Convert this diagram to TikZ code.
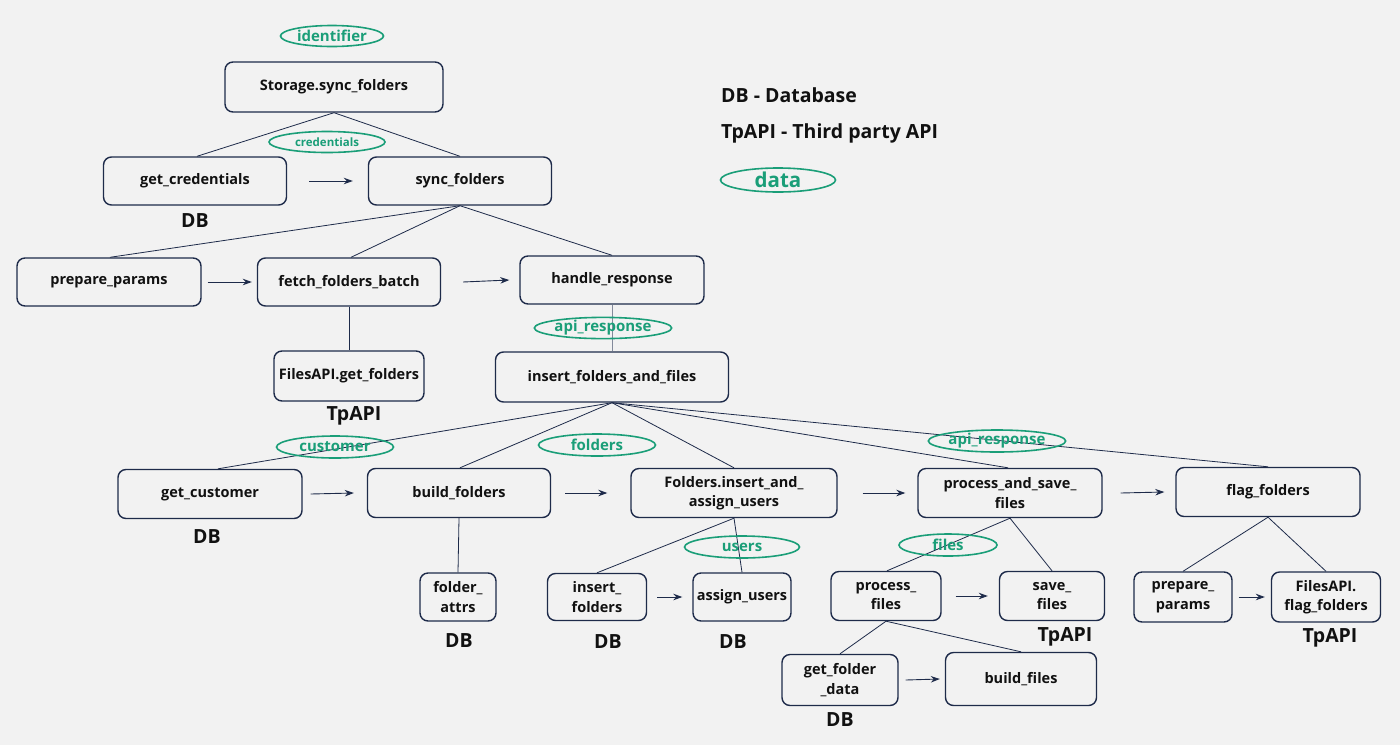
\documentclass[tikz,border=0pt]{standalone}
\usepackage{fontspec}
\setmainfont{Open Sans}
\usetikzlibrary{shapes.geometric,arrows.meta}
\definecolor{bg}{HTML}{F2F2F2}
\definecolor{navy}{HTML}{1E2B4A}
\definecolor{grn}{HTML}{1A9E78}
\definecolor{txt}{HTML}{111111}
\begin{document}
\begin{tikzpicture}[x=1pt,y=-1pt,
 box/.style={draw=navy, line width=1.4pt, rounded corners=8pt, text=txt, font=\fontsize{14.5}{19.5}\selectfont\bfseries, align=center, inner sep=0pt},
 lab/.style={text=txt, font=\fontsize{19.5}{22}\selectfont\bfseries, inner sep=0pt},
 ell/.style={ellipse, draw=grn, line width=1.6pt, text=grn, font=\fontsize{15}{17}\selectfont\bfseries, inner sep=0pt},
 link/.style={draw=navy, line width=0.8pt},
 arr/.style={draw=navy, line width=0.9pt, -{Stealth[length=9pt,width=6.5pt]}}]
\fill[bg] (0,0) rectangle (1400,745);
\useasboundingbox (0,0) rectangle (1400,745);

% legend
\node[lab, anchor=west] (leg1) at (721,95) {DB - Database};
\node[lab, anchor=west] (leg2) at (721,133) {TpAPI - Third party API};
\node[ell, minimum width=115, minimum height=24, font=\fontsize{20.5}{22}\selectfont\bfseries] (legd) at (778,180) {data};

% level 0
\node[box, minimum width=218, minimum height=50] (storage) at (334,87) {Storage.sync\_folders};
\node[ell, minimum width=103, minimum height=21] (eid) at (332,36) {identifier};

% level 1
\node[box, minimum width=183, minimum height=48] (getcred) at (195,181) {get\_credentials};
\node[box, minimum width=183, minimum height=48] (sync) at (460,181) {sync\_folders};
\node[lab] (db1) at (195,221) {DB};
\node[ell, minimum width=116, minimum height=21, font=\fontsize{11.5}{13}\selectfont\bfseries] (ecred) at (327,142) {credentials};
\draw[link] (storage.south) -- ([xshift=2pt]getcred.north);
\draw[link] (storage.south) -- (sync.north);
\draw[arr] ([xshift=22pt]getcred.east) -- ([xshift=-15pt]sync.west);

% level 2
\node[box, minimum width=184, minimum height=48] (prep) at (109,282) {prepare\_params};
\node[box, minimum width=183, minimum height=48] (fetch) at (349,282) {fetch\_folders\_batch};
\node[box, minimum width=184, minimum height=48] (handle) at (612,280) {handle\_response};
\draw[link] (sync.south) -- ([xshift=1pt]prep.north);
\draw[link] (sync.south) -- ([xshift=2pt]fetch.north);
\draw[link] (sync.south) -- (handle.north);
\draw[arr] ([xshift=6pt]prep.east) -- ([xshift=-5pt]fetch.west);
\draw[arr] ([xshift=22pt]fetch.east) -- ([xshift=-10pt]handle.west);

\node[box, minimum width=150, minimum height=50] (fapi) at (349,376) {FilesAPI.get\_folders};
\node[lab] (tp1) at (354,416) {TpAPI};
\draw[link] (fetch.south) -- (fapi.north);

\node[box, minimum width=233, minimum height=50] (insert) at (612,377) {insert\_folders\_and\_files};
\draw[link, draw=navy!55] (handle.south) -- (insert.north);
\node[ell, minimum width=125, minimum height=21] (eapi1) at (603,328) {api\_response};

% level 4
\node[box, minimum width=184, minimum height=49] (getcust) at (210,494) {get\_customer};
\node[box, minimum width=183, minimum height=49] (build) at (459,493) {build\_folders};
\node[box, minimum width=206, minimum height=49] (fins) at (734,493) {Folders.insert\_and\_\\assign\_users};
\node[box, minimum width=184, minimum height=49] (pas) at (1010,493) {process\_and\_save\_\\files};
\node[box, minimum width=184, minimum height=49] (flag) at (1268,492) {flag\_folders};
\node[lab] (db2) at (207,537) {DB};
\draw[link] (insert.south) -- ([xshift=8pt]getcust.north);
\draw[link] (insert.south) -- ([xshift=1pt]build.north);
\draw[link] (insert.south) -- (fins.north);
\draw[link] (insert.south) -- ([xshift=-2pt]pas.north);
\draw[link] (insert.south) -- (flag.north);
\draw[arr] ([xshift=8pt]getcust.east) -- ([xshift=-13pt]build.west);
\draw[arr] ([xshift=14pt]build.east) -- ([xshift=-23pt]fins.west);
\draw[arr] ([xshift=25pt]fins.east) -- ([xshift=-12pt]pas.west);
\draw[arr] ([xshift=18pt]pas.east) -- ([xshift=-11pt]flag.west);
\node[ell, minimum width=117, minimum height=22] (ecust) at (335,447) {customer};
\node[ell, minimum width=117, minimum height=22] (efold) at (597,445) {folders};
\node[ell, minimum width=135, minimum height=22] (eapi2) at (997,441) {api\_response};

% level 5
\node[box, minimum width=76, minimum height=48] (fattr) at (458,597) {folder\_\\attrs};
\node[lab] (db3) at (459,641) {DB};
\draw[link] (build.south) -- (fattr.north);

\node[box, minimum width=99, minimum height=47] (insf) at (597,597) {insert\_\\folders};
\node[box, minimum width=98, minimum height=48] (assu) at (742,597) {assign\_users};
\node[lab] (db4) at (608,642) {DB};
\node[lab] (db5) at (733,642) {DB};
\draw[link] (fins.south) -- (insf.north);
\draw[link] (fins.south) -- (assu.north);
\draw[arr] ([xshift=10pt]insf.east) -- ([xshift=-10pt]assu.west);
\node[ell, minimum width=115, minimum height=22] (eusers) at (742,547) {users};

\node[box, minimum width=110, minimum height=49] (procf) at (886,596) {process\_\\files};
\node[box, minimum width=105, minimum height=49] (savef) at (1052,596) {save\_\\files};
\node[lab] (tp2) at (1065,637) {TpAPI};
\draw[link] (pas.south) -- ([xshift=1pt]procf.north);
\draw[link] (pas.south) -- (savef.north);
\draw[arr] ([xshift=14pt]procf.east) -- ([xshift=-11pt]savef.west);
\node[ell, minimum width=98, minimum height=22] (efiles) at (948,545) {files};

\node[box, minimum width=116, minimum height=51] (gfd) at (840,680) {get\_folder\\\_data};
\node[box, minimum width=151, minimum height=53] (bfiles) at (1021,679) {build\_files};
\node[lab] (db6) at (840,720) {DB};
\draw[link] (procf.south) -- (gfd.north);
\draw[link] (procf.south) -- (bfiles.north);
\draw[arr] ([xshift=7pt]gfd.east) -- ([xshift=-5pt]bfiles.west);

\node[box, minimum width=98, minimum height=50] (prep2) at (1183,597) {prepare\_\\params};
\node[box, minimum width=109, minimum height=50] (fflag) at (1326,597) {FilesAPI.\\flag\_folders};
\node[lab] (tp3) at (1330,638) {TpAPI};
\draw[link] (flag.south) -- (prep2.north);
\draw[link] (flag.south) -- (fflag.north);
\draw[arr] ([xshift=6pt]prep2.east) -- ([xshift=-6pt]fflag.west);
\end{tikzpicture}
\end{document}
